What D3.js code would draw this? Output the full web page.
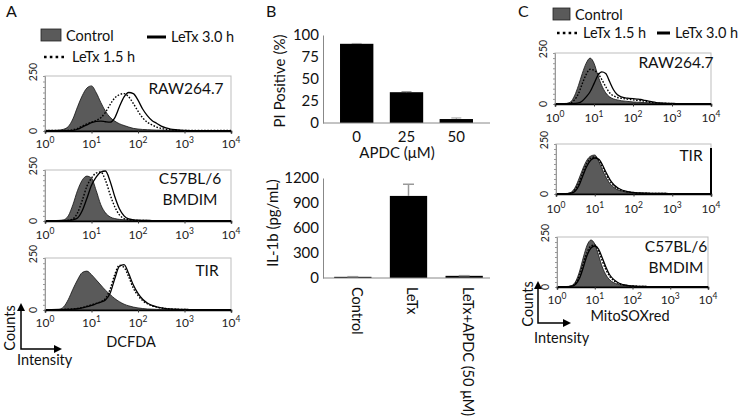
<!DOCTYPE html>
<html>
<head>
<meta charset="utf-8">
<script src="https://cdn.jsdelivr.net/npm/d3@7"></script>
<style>
  body { margin: 0; background: #fff; }
  svg { font-family: Lato, "Noto Sans", sans-serif; }
</style>
</head>
<body>
<div id="fig"></div>
<script>
const W = 742;
const H = 419;

// log10 intensity position of each histogram bin
const bins = [0, 0.1, 0.2, 0.3, 0.4, 0.5, 0.6, 0.7, 0.8, 0.9, 1, 1.1, 1.2, 1.3, 1.4, 1.5, 1.6, 1.7, 1.8, 1.9, 2,
              2.1, 2.2, 2.3, 2.4, 2.5, 2.6, 2.7, 2.8, 2.9, 3, 3.1, 3.2, 3.3, 3.4, 3.5, 3.6, 3.7, 3.8, 3.9, 4];

// Panel A - DCFDA counts
const dcfRawCtrl = [3,3,3,4,8,20,55,110,160,195,205, 175,130,90,62,45,33,25,18,12,9, 7,6,5,4,4,3,3,3,3,2, 2,2,2,2,2,2,2,2,2,2];
const dcfRawL15  = [2,2,2,2,2,3,6,12,22,32,40, 48,60,85,120,150,165,170,155,125,90, 60,40,28,18,12,8,6,4,3,3, 2,2,2,2,2,2,2,2,2,2];
const dcfRawL30  = [2,2,2,2,2,2,3,8,18,28,38, 44,45,42,40,60,110,155,175,170,140, 100,70,48,35,22,14,9,6,4,3, 2,2,2,2,2,2,2,2,2,2];

const dcfB6Ctrl = [2,2,2,3,6,25,80,150,200,220,210, 150,80,40,20,12,8,6,5,4,3, 3,3,2,2,2,2,2,2,2,2, 2,2,2,2,2,2,2,2,2,2];
const dcfB6L15  = [2,2,2,2,2,3,10,40,100,170,210, 235,240,200,130,70,30,12,6,4,3, 3,2,2,2,2,2,2,2,2,2, 2,2,2,2,2,2,2,2,2,2];
const dcfB6L30  = [2,2,2,2,2,3,6,15,50,110,175, 215,240,245,195,120,60,25,10,6,4, 3,3,2,2,2,2,2,2,2,2, 2,2,2,2,2,2,2,2,2,2];

const dcfTirCtrl = [2,2,3,4,15,50,100,145,180,187,170, 145,120,95,75,55,40,28,20,14,10, 7,5,4,3,3,3,2,2,2,2, 2,2,2,2,2,2,2,2,2,2];
const dcfTirL15  = [2,2,2,2,3,4,5,8,12,18,25, 32,40,55,100,170,215,205,160,105,70, 45,30,20,14,10,7,5,4,3,3, 2,2,2,2,2,2,2,2,2,2];
const dcfTirL30  = [2,2,2,2,2,3,4,6,10,16,22, 30,38,48,80,150,210,218,175,120,80, 52,34,22,15,10,7,5,4,3,3, 2,2,2,2,2,2,2,2,2,2];

// Panel C - MitoSOXred counts
const mitoRawCtrl = [2,2,2,3,10,40,90,150,200,225,200, 140,90,55,35,25,20,16,14,12,10, 9,8,7,6,5,4,3,3,2,2, 2,2,2,2,2,2,2,2,2,2];
const mitoRawL15  = [2,2,2,2,5,20,50,100,145,170,165, 150,120,85,55,40,32,28,25,23,20, 18,16,14,10,7,5,4,3,3,2, 2,2,2,2,2,2,2,2,2,2];
const mitoRawL30  = [2,2,2,2,2,3,5,15,35,60,100, 140,157,150,110,70,45,35,30,28,26, 24,22,18,14,10,7,5,4,3,3, 2,2,2,2,2,2,2,2,2,2];

const mitoTirCtrl = [2,2,2,3,10,35,80,130,170,190,195, 165,120,80,50,32,20,14,10,8,6, 5,4,4,3,3,3,3,3,2,2, 2,2,2,2,2,2,2,2,2,2];
const mitoTirL15  = [2,2,2,2,6,25,60,110,155,180,185, 170,135,95,62,40,26,18,12,9,7, 5,4,4,3,3,3,3,3,2,2, 2,2,2,2,2,2,2,2,2,2];
const mitoTirL30  = [2,2,2,2,4,15,45,95,140,170,180, 175,145,105,70,45,30,20,14,10,8, 6,5,4,4,3,3,3,3,2,2, 2,2,2,2,2,2,2,2,2,2];

const mitoB6Ctrl = [2,2,2,3,8,30,80,150,210,235,215, 160,100,60,35,22,14,10,7,5,4, 3,3,3,2,2,2,2,2,2,2, 2,2,2,2,2,2,2,2,2,2];
const mitoB6L15  = [2,2,2,2,5,20,60,120,175,205,210, 180,130,85,52,32,20,13,9,6,5, 4,3,3,2,2,2,2,2,2,2, 2,2,2,2,2,2,2,2,2,2];
const mitoB6L30  = [2,2,2,2,4,15,45,100,160,195,205, 190,145,98,60,38,24,15,10,7,5, 4,3,3,2,2,2,2,2,2,2, 2,2,2,2,2,2,2,2,2,2];

const decadeTicks = [1, 10, 100, 1000, 10000];
const countMax = 250;

// Panel B
const piConc = ["0", "25", "50"];
const piValues = [90, 35, 4.5];
const piErrors = [0.4, 0.8, 1.2];
const piTicks = [0, 25, 50, 75, 100];

const ilCats = ["Control", "LeTx", "LeTx+APDC (50 μM)"];
const ilValues = [14, 985, 26];
const ilErrors = [2, 140, 2];
const ilTicks = [0, 300, 600, 900, 1200];

const svg = d3.select("#fig").append("svg")
    .attr("width", W)
    .attr("height", H);

svg.append("rect").attr("width", W).attr("height", H).attr("fill", "#fff");

// one flow histogram box
function drawHist(box, ctrl, l15, l30, names, opts = {}) {
    const x = d3.scaleLog().domain([1, 10000]).range([box.left, box.right]);
    const y = d3.scaleLinear().domain([0, countMax]).range([box.bottom, box.top]);
    const g = svg.append("g");

    g.append("rect")
        .attr("x", box.left).attr("y", box.top)
        .attr("width", box.right - box.left).attr("height", box.bottom - box.top)
        .attr("fill", "#fff").attr("stroke", "#bdbdbd").attr("stroke-width", 1);

    const px = (d, i) => x(Math.pow(10, bins[i]));
    const area = d3.area().x(px).y0(y(0)).y1(d => y(d)).curve(d3.curveMonotoneX);
    const line = d3.line().x(px).y(d => y(d)).curve(d3.curveMonotoneX);

    g.append("path").datum(ctrl).attr("d", area)
        .attr("fill", "#5a5a5a").attr("stroke", "#111").attr("stroke-width", 0.8);
    g.append("path").datum(l30).attr("d", line)
        .attr("fill", "none").attr("stroke", "#000").attr("stroke-width", 1.3);
    g.append("path").datum(l15).attr("d", line)
        .attr("fill", "none").attr("stroke", "#000").attr("stroke-width", 1.4)
        .attr("stroke-dasharray", "1.6,1.6");

    // left axis with small ticks
    const yAxis = g.append("g")
        .attr("transform", `translate(${box.left},0)`)
        .call(d3.axisLeft(y).tickValues(d3.range(0, countMax + 1, 25)).tickSize(2).tickFormat(""));
    yAxis.select(".domain").attr("stroke", "#999");
    yAxis.selectAll(".tick line").attr("stroke", "#999");

    [0, countMax].forEach(v => {
        g.append("text")
            .attr("transform", `translate(${box.left - 8},${v === 0 ? y(v) : y(v) - 4}) rotate(-90)`)
            .attr("text-anchor", "middle")
            .attr("font-size", 10.5)
            .attr("fill", "#222")
            .text(v);
    });

    // bottom log axis
    const xAxis = g.append("g")
        .attr("transform", `translate(0,${box.bottom})`)
        .call(d3.axisBottom(x).ticks(4).tickSize(2.5).tickFormat(""));
    xAxis.select(".domain").attr("stroke", "#000").attr("stroke-width", 1.6);
    xAxis.selectAll(".tick line").attr("stroke", "#333");

    decadeTicks.forEach((t, i) => {
        const tx = g.append("text")
            .attr("x", x(t))
            .attr("y", box.bottom + box.labelDy)
            .attr("text-anchor", "middle")
            .attr("font-size", 12)
            .attr("fill", "#222");
        tx.append("tspan").text("10");
        tx.append("tspan").attr("dy", -5).attr("font-size", 8.5).text(i);
    });

    if (opts.rightBar) {
        g.append("line")
            .attr("x1", box.right).attr("x2", box.right)
            .attr("y1", box.top + 4).attr("y2", box.bottom)
            .attr("stroke", "#000").attr("stroke-width", 2);
    }

    names.forEach((n, i) => {
        g.append("text")
            .attr("x", box.nameX)
            .attr("y", box.nameY + i * 21)
            .attr("text-anchor", "middle")
            .attr("font-size", 15.5)
            .attr("fill", "#111")
            .text(n);
    });
}

// Panel A
drawHist({left: 45, right: 231, top: 76, bottom: 131, labelDy: 17, nameX: 186, nameY: 94},
    dcfRawCtrl, dcfRawL15, dcfRawL30, ["RAW264.7"]);
drawHist({left: 45, right: 231, top: 170, bottom: 221, labelDy: 18, nameX: 190, nameY: 184},
    dcfB6Ctrl, dcfB6L15, dcfB6L30, ["C57BL/6", "BMDIM"]);
drawHist({left: 45, right: 231, top: 258, bottom: 310, labelDy: 17, nameX: 207, nameY: 276},
    dcfTirCtrl, dcfTirL15, dcfTirL30, ["TIR"]);

// Panel C
drawHist({left: 555, right: 711, top: 53, bottom: 104, labelDy: 18, nameX: 676, nameY: 68},
    mitoRawCtrl, mitoRawL15, mitoRawL30, ["RAW264.7"]);
drawHist({left: 556, right: 711, top: 144, bottom: 194, labelDy: 19, nameX: 691, nameY: 161},
    mitoTirCtrl, mitoTirL15, mitoTirL30, ["TIR"], {rightBar: true});
drawHist({left: 557, right: 708, top: 237, bottom: 287, labelDy: 17, nameX: 676, nameY: 252},
    mitoB6Ctrl, mitoB6L15, mitoB6L30, ["C57BL/6", "BMDIM"]);

// legends
function legend(items) {
    const g = svg.append("g").attr("font-size", 14.5).attr("fill", "#111");
    items.forEach(it => {
        if (it.type === "box") {
            g.append("rect").attr("x", it.x).attr("y", it.y - 12).attr("width", it.w).attr("height", 12)
                .attr("fill", "#5a5a5a").attr("stroke", "#222").attr("stroke-width", 0.8);
        } else {
            g.append("line").attr("x1", it.x).attr("x2", it.x + it.w)
                .attr("y1", it.y - 5).attr("y2", it.y - 5)
                .attr("stroke", "#000").attr("stroke-width", it.type === "dot" ? 2.6 : 3)
                .attr("stroke-dasharray", it.type === "dot" ? "2.6,3.2" : null);
        }
        g.append("text").attr("x", it.x + it.w + 5).attr("y", it.y).text(it.label);
    });
}
legend([
    {type: "box", x: 41, y: 41, w: 20, label: "Control"},
    {type: "dot", x: 44, y: 62, w: 23, label: "LeTx 1.5 h"},
    {type: "line", x: 147, y: 42, w: 19, label: "LeTx 3.0 h"}
]);
legend([
    {type: "box", x: 553, y: 20, w: 17, label: "Control"},
    {type: "dot", x: 557, y: 38, w: 21, label: "LeTx 1.5 h"},
    {type: "line", x: 657, y: 38, w: 13, label: "LeTx 3.0 h"}
]);

// counts / intensity arrows
function arrows(cx, topY, cornerY, endX, countsX, intensityY, channel, chX, chY) {
    const g = svg.append("g").attr("fill", "#111").attr("font-size", 14.5);
    g.append("path")
        .attr("d", `M${cx},${topY + 6} L${cx},${cornerY} L${endX - 6},${cornerY}`)
        .attr("fill", "none").attr("stroke", "#000").attr("stroke-width", 1.5);
    g.append("path").attr("d", `M${cx - 4},${topY + 8} L${cx},${topY} L${cx + 4},${topY + 8} Z`).attr("fill", "#000");
    g.append("path").attr("d", `M${endX - 8},${cornerY - 4} L${endX},${cornerY} L${endX - 8},${cornerY + 4} Z`).attr("fill", "#000");
    g.append("text")
        .attr("transform", `translate(${countsX},${(topY + cornerY) / 2 + 2}) rotate(-90)`)
        .attr("text-anchor", "middle").text("Counts");
    g.append("text").attr("x", cx - 4).attr("y", intensityY).text("Intensity");
    g.append("text").attr("x", chX).attr("y", chY).attr("text-anchor", "middle").text(channel);
}
arrows(21, 303, 349, 62, 15, 365, "DCFDA", 131, 347);
arrows(538, 281, 323, 571, 533, 343, "MitoSOXred", 630, 321);

// panel letters
[["A", 6], ["B", 266], ["C", 518]].forEach(([t, x]) => {
    svg.append("text").attr("x", x).attr("y", 17).attr("font-size", 16).attr("fill", "#111").text(t);
});

// Panel B - PI positive bars
const piX = d3.scaleBand().domain(piConc).range([331.8, 481.2]).paddingInner(0.33).paddingOuter(0.165);
const piY = d3.scaleLinear().domain([0, 100]).range([123, 35]);
const gPi = svg.append("g");

gPi.selectAll("rect.bar").data(piValues).enter().append("rect")
    .attr("x", (d, i) => piX(piConc[i]))
    .attr("y", d => piY(d))
    .attr("width", piX.bandwidth())
    .attr("height", d => piY(0) - piY(d))
    .attr("fill", "#000");

gPi.selectAll("line.err").data(piValues).enter().append("line")
    .attr("x1", (d, i) => piX(piConc[i]) + piX.bandwidth() / 2)
    .attr("x2", (d, i) => piX(piConc[i]) + piX.bandwidth() / 2)
    .attr("y1", d => piY(d))
    .attr("y2", (d, i) => piY(d + piErrors[i]))
    .attr("stroke", "#999");
gPi.selectAll("line.cap").data(piValues).enter().append("line")
    .attr("x1", (d, i) => piX(piConc[i]) + piX.bandwidth() / 2 - 5)
    .attr("x2", (d, i) => piX(piConc[i]) + piX.bandwidth() / 2 + 5)
    .attr("y1", (d, i) => piY(d + piErrors[i]))
    .attr("y2", (d, i) => piY(d + piErrors[i]))
    .attr("stroke", "#999");

const piYAxis = gPi.append("g").attr("transform", "translate(323,0)")
    .call(d3.axisLeft(piY).tickValues(piTicks).tickSize(0).tickPadding(4));
piYAxis.select(".domain").attr("stroke", "#888");
piYAxis.selectAll("text").attr("font-size", 15).attr("font-family", "Lato").attr("fill", "#111");

const piXAxis = gPi.append("g").attr("transform", "translate(0,123)")
    .call(d3.axisBottom(piX).tickSize(0).tickPadding(8));
piXAxis.select(".domain").attr("d", "M323,0H490").attr("stroke", "#888");
piXAxis.selectAll("text").attr("font-size", 15).attr("font-family", "Lato").attr("fill", "#111");

gPi.append("text").attr("x", 397).attr("y", 158).attr("text-anchor", "middle")
    .attr("font-size", 15).attr("fill", "#111").text("APDC (μM)");
gPi.append("text").attr("transform", "translate(285,81) rotate(-90)").attr("text-anchor", "middle")
    .attr("font-size", 15).attr("fill", "#111").text("PI Positive (%)");

// Panel B - IL-1b bars
const ilX = d3.scaleBand().domain(ilCats).range([325, 492]).paddingInner(0.33).paddingOuter(0.165);
const ilY = d3.scaleLinear().domain([0, 1200]).range([278, 178]);
const gIl = svg.append("g");

gIl.selectAll("rect.bar").data(ilValues).enter().append("rect")
    .attr("x", (d, i) => ilX(ilCats[i]))
    .attr("y", d => ilY(d))
    .attr("width", ilX.bandwidth())
    .attr("height", d => ilY(0) - ilY(d))
    .attr("fill", "#000");

gIl.selectAll("line.err").data(ilValues).enter().append("line")
    .attr("x1", (d, i) => ilX(ilCats[i]) + ilX.bandwidth() / 2)
    .attr("x2", (d, i) => ilX(ilCats[i]) + ilX.bandwidth() / 2)
    .attr("y1", d => ilY(d))
    .attr("y2", (d, i) => ilY(d + ilErrors[i]))
    .attr("stroke", "#999").attr("stroke-width", 1.5);
gIl.selectAll("line.cap").data(ilValues).enter().append("line")
    .attr("x1", (d, i) => ilX(ilCats[i]) + ilX.bandwidth() / 2 - 5.5)
    .attr("x2", (d, i) => ilX(ilCats[i]) + ilX.bandwidth() / 2 + 5.5)
    .attr("y1", (d, i) => ilY(d + ilErrors[i]))
    .attr("y2", (d, i) => ilY(d + ilErrors[i]))
    .attr("stroke", "#999").attr("stroke-width", 1.5);

const ilYAxis = gIl.append("g").attr("transform", "translate(323,0)")
    .call(d3.axisLeft(ilY).tickValues(ilTicks).tickSize(0).tickPadding(4).tickFormat(d3.format("d")));
ilYAxis.select(".domain").attr("stroke", "#888");
ilYAxis.selectAll("text").attr("font-size", 15).attr("font-family", "Lato").attr("fill", "#111");

const ilXAxis = gIl.append("g").attr("transform", "translate(0,278)")
    .call(d3.axisBottom(ilX).tickSize(0).tickFormat(""));
ilXAxis.select(".domain").attr("d", "M323,0H490").attr("stroke", "#888");

ilCats.forEach(c => {
    gIl.append("text")
        .attr("transform", `translate(${ilX(c) + ilX.bandwidth() / 2 + 4},287) rotate(90)`)
        .attr("dy", "0.35em")
        .attr("font-size", 14.5).attr("fill", "#111")
        .text(c);
});
gIl.append("text").attr("transform", "translate(278,223) rotate(-90)").attr("text-anchor", "middle")
    .attr("font-size", 15).attr("fill", "#111").text("IL-1b (pg/mL)");
</script>
</body>
</html>
